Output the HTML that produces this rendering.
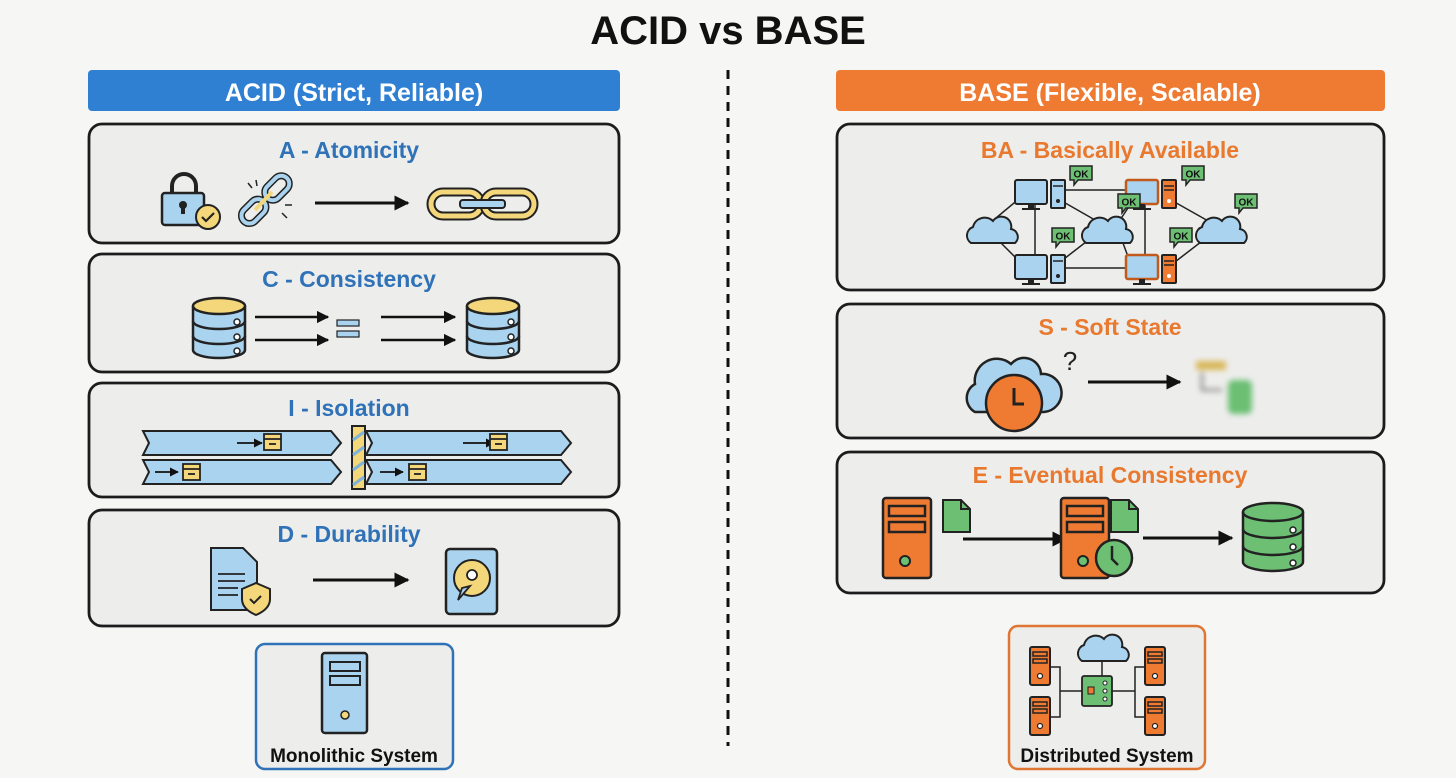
<!DOCTYPE html>
<html><head><meta charset="utf-8"><style>
html,body{margin:0;padding:0;background:#f6f6f5;}
svg{display:block}
text{font-family:"Liberation Sans",sans-serif;font-weight:bold;}
</style></head><body>
<svg width="1456" height="778" viewBox="0 0 1456 778" xmlns="http://www.w3.org/2000/svg">
<defs>
<marker id="ah" viewBox="0 0 10 10" refX="9" refY="5" markerWidth="5" markerHeight="5" orient="auto"><path d="M0,0L10,5L0,10z" fill="#111"/></marker>
<filter id="bl"><feGaussianBlur stdDeviation="3"/></filter>
<g id="db">
 <path d="M0,8 v44 a26,8 0 0 0 52,0 v-44" fill="#a9d3ef" stroke="#222" stroke-width="2.5"/>
 <path d="M0,23 a26,8 0 0 0 52,0 M0,38 a26,8 0 0 0 52,0" fill="none" stroke="#222" stroke-width="2.5"/>
 <ellipse cx="26" cy="8" rx="26" ry="8" fill="#f3d77a" stroke="#222" stroke-width="2.5"/>
 <circle cx="44" cy="24" r="3" fill="#fff" stroke="#222" stroke-width="1.5"/><circle cx="44" cy="39" r="3" fill="#fff" stroke="#222" stroke-width="1.5"/><circle cx="44" cy="53" r="3" fill="#fff" stroke="#222" stroke-width="1.5"/>
</g>
<g id="dbg">
 <path d="M0,9 v50 a30,9 0 0 0 60,0 v-50" fill="#6cbf73" stroke="#222" stroke-width="2.5"/>
 <path d="M0,26 a30,9 0 0 0 60,0 M0,43 a30,9 0 0 0 60,0" fill="none" stroke="#222" stroke-width="2.5"/>
 <ellipse cx="30" cy="9" rx="30" ry="9" fill="#6cbf73" stroke="#222" stroke-width="2.5"/>
 <circle cx="50" cy="27" r="3" fill="#fff" stroke="#222" stroke-width="1.5"/><circle cx="50" cy="44" r="3" fill="#fff" stroke="#222" stroke-width="1.5"/><circle cx="50" cy="60" r="3" fill="#fff" stroke="#222" stroke-width="1.5"/>
</g>
<g id="cloud"><path d="M-22,10 a9,9 0 0 1 2,-16 a12,12 0 0 1 20,-6 a10,10 0 0 1 18,8 a8,8 0 0 1 4,14 z" fill="#a9d3ef" stroke="#222" stroke-width="2"/></g>
<g id="pcb"><rect x="0" y="0" width="32" height="24" rx="2" fill="#a9d3ef" stroke="#222" stroke-width="2"/><rect x="13" y="24" width="6" height="4" fill="#222"/><rect x="7" y="28" width="18" height="2" fill="#222"/><rect x="36" y="0" width="14" height="28" rx="1" fill="#a9d3ef" stroke="#222" stroke-width="2"/><line x1="38" y1="6" x2="48" y2="6" stroke="#222" stroke-width="1.5"/><circle cx="43" cy="21" r="2" fill="#222"/></g>
<g id="pco"><rect x="0" y="0" width="32" height="24" rx="2" fill="#a9d3ef" stroke="#c25a1c" stroke-width="2.5"/><rect x="13" y="24" width="6" height="4" fill="#222"/><rect x="7" y="28" width="18" height="2" fill="#222"/><rect x="36" y="0" width="14" height="28" rx="1" fill="#ef7b32" stroke="#222" stroke-width="2"/><line x1="38" y1="6" x2="48" y2="6" stroke="#222" stroke-width="1.5"/><line x1="38" y1="10" x2="48" y2="10" stroke="#222" stroke-width="1.5"/><circle cx="43" cy="21" r="2" fill="#fff"/></g>
<g id="ok"><path d="M0,0 h22 v14 h-14 l-4,5 v-5 h-4 z" fill="#6cbf73" stroke="#222" stroke-width="1.5"/><text x="11" y="11.5" font-size="10" text-anchor="middle" fill="#111">OK</text></g>
<g id="srvo"><rect x="0" y="0" width="48" height="80" rx="3" fill="#ef7b32" stroke="#222" stroke-width="2.5"/><rect x="6" y="8" width="36" height="10" fill="#ef7b32" stroke="#222" stroke-width="2.5"/><rect x="6" y="24" width="36" height="10" fill="#ef7b32" stroke="#222" stroke-width="2.5"/><circle cx="22" cy="63" r="5" fill="#6cbf73" stroke="#222" stroke-width="2"/></g>
<g id="srvs"><rect x="0" y="0" width="20" height="38" rx="2" fill="#ef7b32" stroke="#222" stroke-width="2"/><rect x="3" y="5" width="14" height="4" fill="#ef7b32" stroke="#222" stroke-width="1.5"/><rect x="3" y="12" width="14" height="4" fill="#ef7b32" stroke="#222" stroke-width="1.5"/><circle cx="10" cy="29" r="2.5" fill="#fff" stroke="#222" stroke-width="1.2"/></g>
<g id="docg"><path d="M0,0 h18 l9,9 v23 h-27 z" fill="#6cbf73" stroke="#222" stroke-width="2"/><path d="M18,0 v9 h9" fill="none" stroke="#222" stroke-width="2"/></g>
<g id="box"><rect x="0" y="0" width="17" height="16" fill="#f3d77a" stroke="#222" stroke-width="1.8"/><line x1="0" y1="5" x2="17" y2="5" stroke="#222" stroke-width="1.8"/><line x1="5" y1="10" x2="12" y2="10" stroke="#222" stroke-width="1.8"/></g>
</defs>

<text x="728" y="44" font-size="40" text-anchor="middle" fill="#111">ACID vs BASE</text>
<line x1="728" y1="70" x2="728" y2="746" stroke="#111" stroke-width="3" stroke-dasharray="9,7"/>

<!-- LEFT -->
<rect x="88" y="70" width="532" height="41" rx="4" fill="#2f80d2"/>
<text x="354" y="101" font-size="25" text-anchor="middle" fill="#fff">ACID (Strict, Reliable)</text>

<g stroke="#1c1c1c" stroke-width="2.8" fill="#ededec">
<rect x="89" y="124" width="530" height="119" rx="13"/>
<rect x="89" y="254" width="530" height="118" rx="13"/>
<rect x="89" y="383" width="530" height="114" rx="13"/>
<rect x="89" y="510" width="530" height="116" rx="13"/>
</g>
<g font-size="23" text-anchor="middle" fill="#2f72b8">
<text x="349" y="158">A - Atomicity</text>
<text x="349" y="287">C - Consistency</text>
<text x="349" y="416">I - Isolation</text>
<text x="349" y="542">D - Durability</text>
</g>
<!-- lock -->
<path d="M172,200 v-14 a12,12 0 0 1 24,0 v14" fill="none" stroke="#222" stroke-width="4"/>
<rect x="162" y="193" width="42" height="32" rx="3" fill="#a9d3ef" stroke="#222" stroke-width="2.5"/>
<circle cx="183" cy="205" r="4" fill="#222"/><rect x="181" y="206" width="4" height="8" fill="#222"/>
<circle cx="208" cy="217" r="12" fill="#f3d77a" stroke="#222" stroke-width="2"/>
<path d="M202,217 l4,4 l8,-8" fill="none" stroke="#222" stroke-width="2.2"/>
<!-- broken chain -->
<g transform="rotate(-45 265 200)">
<rect x="235" y="192" width="28" height="16" rx="8" fill="none" stroke="#222" stroke-width="7"/>
<rect x="235" y="192" width="28" height="16" rx="8" fill="none" stroke="#a9d3ef" stroke-width="4"/>
<rect x="268" y="192" width="28" height="16" rx="8" fill="none" stroke="#222" stroke-width="7"/>
<rect x="268" y="192" width="28" height="16" rx="8" fill="none" stroke="#a9d3ef" stroke-width="4"/>
</g>
<line x1="255" y1="210" x2="272" y2="192" stroke="#f3d77a" stroke-width="4"/>
<g stroke="#222" stroke-width="1.5"><line x1="248" y1="183" x2="252" y2="188"/><line x1="282" y1="213" x2="287" y2="218"/><line x1="285" y1="205" x2="292" y2="205"/><line x1="256" y1="180" x2="257" y2="186"/></g>
<line x1="315" y1="203" x2="408" y2="203" stroke="#111" stroke-width="3" marker-end="url(#ah)"/>
<!-- gold chain -->
<rect x="431" y="192" width="50" height="24" rx="12" fill="none" stroke="#222" stroke-width="9"/>
<rect x="431" y="192" width="50" height="24" rx="12" fill="none" stroke="#f3d77a" stroke-width="5"/>
<rect x="484" y="192" width="50" height="24" rx="12" fill="none" stroke="#222" stroke-width="9"/>
<rect x="484" y="192" width="50" height="24" rx="12" fill="none" stroke="#f3d77a" stroke-width="5"/>
<rect x="460" y="200" width="45" height="8" rx="3" fill="#a9d3ef" stroke="#222" stroke-width="2"/>

<!-- consistency -->
<use href="#db" x="193" y="298"/>
<use href="#db" x="467" y="298"/>
<g stroke="#111" stroke-width="2.5" marker-end="url(#ah)">
<line x1="255" y1="317" x2="328" y2="317"/><line x1="255" y1="340" x2="328" y2="340"/>
<line x1="381" y1="317" x2="455" y2="317"/><line x1="381" y1="340" x2="455" y2="340"/>
</g>
<rect x="337" y="320" width="22" height="6" fill="#a9d3ef" stroke="#222" stroke-width="1.2"/>
<rect x="337" y="331" width="22" height="6" fill="#a9d3ef" stroke="#222" stroke-width="1.2"/>

<!-- isolation lanes -->
<g fill="#a9d3ef" stroke="#222" stroke-width="2">
<path d="M143,431 h188 l10,12 l-10,12 h-188 l6,-12 z"/>
<path d="M143,460 h188 l10,12 l-10,12 h-188 l6,-12 z"/>
<path d="M366,431 h195 l10,12 l-10,12 h-195 l6,-12 z"/>
<path d="M366,460 h195 l10,12 l-10,12 h-195 l6,-12 z"/>
</g>
<g stroke="#111" stroke-width="1.8" marker-end="url(#ah)">
<line x1="237" y1="443" x2="262" y2="443"/><line x1="155" y1="472" x2="178" y2="472"/>
<line x1="463" y1="443" x2="494" y2="443"/><line x1="380" y1="472" x2="403" y2="472"/>
</g>
<use href="#box" x="264" y="434"/><use href="#box" x="183" y="464"/>
<use href="#box" x="490" y="434"/><use href="#box" x="409" y="464"/>
<rect x="352" y="426" width="13" height="63" fill="#f3d77a" stroke="#222" stroke-width="2"/>
<g stroke="#7fb3d8" stroke-width="3"><line x1="353" y1="440" x2="364" y2="432"/><line x1="353" y1="455" x2="364" y2="447"/><line x1="353" y1="470" x2="364" y2="462"/><line x1="353" y1="485" x2="364" y2="477"/></g>

<!-- durability -->
<path d="M211,548 h32 l14,14 v48 h-46 z" fill="#a9d3ef" stroke="#222" stroke-width="2"/>
<g stroke="#222" stroke-width="1.8"><line x1="218" y1="574" x2="245" y2="574"/><line x1="218" y1="581" x2="245" y2="581"/><line x1="218" y1="588" x2="238" y2="588"/><line x1="218" y1="595" x2="238" y2="595"/></g>
<path d="M256,583 l14,6 v10 c0,8 -7,13 -14,16 c-7,-3 -14,-8 -14,-16 v-10 z" fill="#f3d77a" stroke="#222" stroke-width="2"/>
<path d="M250,599 l4,4 l7,-7" fill="none" stroke="#222" stroke-width="2"/>
<line x1="313" y1="580" x2="408" y2="580" stroke="#111" stroke-width="3" marker-end="url(#ah)"/>
<rect x="446" y="549" width="51" height="65" rx="4" fill="#a9d3ef" stroke="#222" stroke-width="2.5"/>
<circle cx="472" cy="578" r="18" fill="#f3d77a" stroke="#222" stroke-width="2"/>
<circle cx="472" cy="575" r="5" fill="#fff" stroke="#222" stroke-width="1.8"/>
<path d="M470,586 l-12,14 l4,-12 z" fill="#a9d3ef" stroke="#222" stroke-width="1.8"/>

<!-- monolithic -->
<rect x="256" y="644" width="197" height="125" rx="9" fill="#ededec" stroke="#2f72b8" stroke-width="2.5"/>
<rect x="322" y="653" width="45" height="80" rx="3" fill="#a9d3ef" stroke="#222" stroke-width="2.5"/>
<rect x="330" y="662" width="30" height="9" fill="#a9d3ef" stroke="#222" stroke-width="2"/>
<rect x="330" y="676" width="30" height="9" fill="#a9d3ef" stroke="#222" stroke-width="2"/>
<circle cx="345" cy="715" r="4" fill="#f3d77a" stroke="#222" stroke-width="1.5"/>
<text x="354" y="762" font-size="19" text-anchor="middle" fill="#111">Monolithic System</text>

<!-- RIGHT -->
<rect x="836" y="70" width="549" height="41" rx="4" fill="#ef7b32"/>
<text x="1110" y="101" font-size="25" text-anchor="middle" fill="#fff">BASE (Flexible, Scalable)</text>
<g stroke="#1c1c1c" stroke-width="2.8" fill="#ededec">
<rect x="837" y="124" width="547" height="166" rx="13"/>
<rect x="837" y="304" width="547" height="134" rx="13"/>
<rect x="837" y="452" width="547" height="141" rx="13"/>
</g>
<g font-size="23" text-anchor="middle" fill="#e8792f">
<text x="1110" y="158">BA - Basically Available</text>
<text x="1110" y="335">S - Soft State</text>
<text x="1110" y="483">E - Eventual Consistency</text>
</g>
<!-- network -->
<g stroke="#222" stroke-width="1.5" fill="none">
<line x1="996" y1="218" x2="1020" y2="198"/><line x1="996" y1="238" x2="1020" y2="262"/>
<line x1="1035" y1="205" x2="1035" y2="260"/>
<line x1="1060" y1="190" x2="1125" y2="190"/><line x1="1060" y1="268" x2="1125" y2="268"/>
<line x1="1060" y1="200" x2="1095" y2="220"/><line x1="1060" y1="262" x2="1095" y2="235"/>
<line x1="1120" y1="220" x2="1130" y2="205"/><line x1="1120" y1="235" x2="1130" y2="262"/>
<line x1="1145" y1="205" x2="1145" y2="262"/>
<line x1="1171" y1="200" x2="1210" y2="222"/><line x1="1171" y1="265" x2="1210" y2="235"/>
</g>
<use href="#cloud" x="993" y="233"/><use href="#cloud" x="1108" y="233"/><use href="#cloud" x="1222" y="233"/>
<use href="#pcb" x="1015" y="180"/><use href="#pcb" x="1015" y="255"/>
<use href="#pco" x="1126" y="180"/><use href="#pco" x="1126" y="255"/>
<use href="#ok" x="1070" y="166"/><use href="#ok" x="1182" y="166"/>
<use href="#ok" x="1118" y="194"/><use href="#ok" x="1235" y="194"/>
<use href="#ok" x="1052" y="228"/><use href="#ok" x="1170" y="228"/>
<!-- soft state -->
<path d="M975,412 a16,16 0 0 1 0,-28 a22,22 0 0 1 36,-20 a17,17 0 0 1 30,10 a16,16 0 0 1 3,38 z" fill="#a9d3ef" stroke="#222" stroke-width="2.5"/>
<circle cx="1014" cy="403" r="28" fill="#ef7b32" stroke="#222" stroke-width="2.5"/>
<path d="M1014,388 v16 h10" fill="none" stroke="#222" stroke-width="3"/>
<text x="1070" y="370" font-size="26" text-anchor="middle" fill="#222" style="font-weight:normal">?</text>
<line x1="1088" y1="382" x2="1180" y2="382" stroke="#111" stroke-width="3" marker-end="url(#ah)"/>
<g filter="url(#bl)">
<rect x="1196" y="361" width="30" height="9" fill="#d9b85a"/>
<path d="M1202,372 v18 h20" fill="none" stroke="#666" stroke-width="2"/>
<rect x="1228" y="380" width="24" height="34" rx="5" fill="#6cbf73"/>
</g>
<!-- eventual -->
<use href="#srvo" x="883" y="498"/>
<use href="#docg" x="943" y="500"/>
<line x1="963" y1="539" x2="1066" y2="539" stroke="#111" stroke-width="3" marker-end="url(#ah)"/>
<use href="#srvo" x="1061" y="498"/>
<use href="#docg" x="1111" y="500"/>
<circle cx="1114" cy="558" r="18" fill="#6cbf73" stroke="#222" stroke-width="2.5"/>
<path d="M1112,546 v13 l6,6" fill="none" stroke="#222" stroke-width="2.5"/>
<line x1="1143" y1="538" x2="1232" y2="538" stroke="#111" stroke-width="3" marker-end="url(#ah)"/>
<use href="#dbg" x="1243" y="503"/>
<!-- distributed -->
<rect x="1009" y="626" width="196" height="143" rx="9" fill="#ededec" stroke="#e07633" stroke-width="2.5"/>
<g stroke="#222" stroke-width="1.5" fill="none">
<path d="M1050,667 h10 v50 h-10 M1060,691 h22 M1145,667 h-10 v50 h10 M1135,691 h-23 M1102,655 v21"/>
</g>
<use href="#srvs" x="1030" y="647"/><use href="#srvs" x="1030" y="697"/>
<use href="#srvs" x="1145" y="647"/><use href="#srvs" x="1145" y="697"/>
<use href="#cloud" x="1104" y="651"/>
<rect x="1082" y="676" width="30" height="30" rx="2" fill="#6cbf73" stroke="#222" stroke-width="1.8"/>
<rect x="1088" y="687" width="6" height="7" fill="#ef7b32" stroke="#222" stroke-width="1"/>
<g fill="#fff" stroke="#222" stroke-width="1"><circle cx="1105" cy="683" r="2"/><circle cx="1105" cy="691" r="2"/><circle cx="1105" cy="699" r="2"/></g>
<text x="1107" y="762" font-size="19" text-anchor="middle" fill="#111">Distributed System</text>
</svg>
</body></html>
